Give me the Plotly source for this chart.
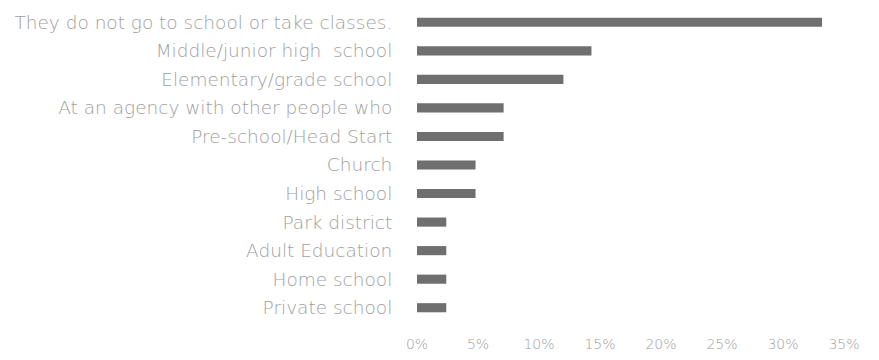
import plotly.graph_objects as go

categories = [
    "They do not go to school or take classes.",
    "Middle/junior high  school",
    "Elementary/grade school",
    "At an agency with other people who",
    "Pre-school/Head Start",
    "Church",
    "High school",
    "Park district",
    "Adult Education",
    "Home school",
    "Private school",
]
values = [33.2, 14.3, 12.0, 7.1, 7.1, 4.8, 4.8, 2.4, 2.4, 2.4, 2.4]
tick_vals = [0, 5, 10, 15, 20, 25, 30, 35]
tick_text = ["0%", "5%", "10%", "15%", "20%", "25%", "30%", "35%"]

fig = go.Figure(go.Bar(
    x=values, y=categories, orientation="h",
    marker=dict(color="#6f6f6f", line=dict(width=0)),
    width=0.32,
))
fig.update_layout(
    width=879, height=360,
    margin=dict(l=409, r=43, t=0, b=46),
    paper_bgcolor="white", plot_bgcolor="white",
    font=dict(family="DejaVu Sans, sans-serif", size=12, color="#a0a0a0"),
    showlegend=False,
)
fig.update_xaxes(
    range=[0, 35], tickvals=tick_vals, ticktext=tick_text,
    showgrid=False, zeroline=False, showline=False,
    ticks="outside", ticklen=9, tickcolor="white",
    tickfont=dict(size=14, color="#a0a0a0", weight=300),
    fixedrange=True,
)
fig.update_yaxes(
    categoryorder="array", categoryarray=categories[::-1],
    showgrid=False, zeroline=False, showline=False,
    ticks="outside", ticklen=20, tickcolor="white",
    tickfont=dict(size=18.5, color="#a0a0a0", weight=300),
    fixedrange=True,
    automargin=False,
)
fig.write_html("out.html")
